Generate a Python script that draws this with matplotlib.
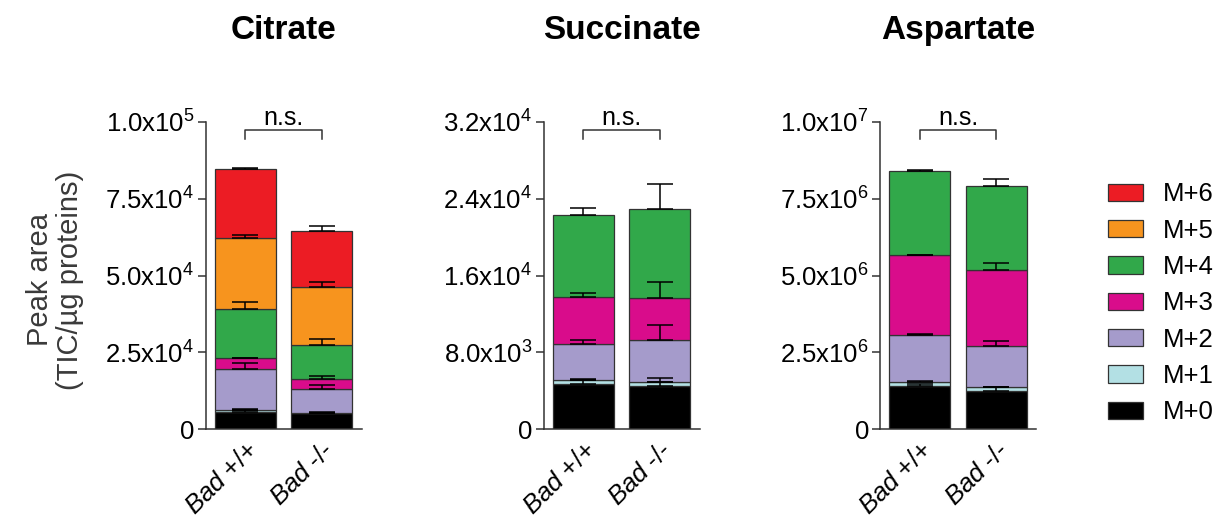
import matplotlib
matplotlib.use("Agg")
import matplotlib.pyplot as plt
import matplotlib.transforms as mtransforms
from matplotlib.patches import Patch
import numpy as np

plt.rcParams['font.family'] = ['Liberation Sans', 'DejaVu Sans']
plt.rcParams['mathtext.fontset'] = 'custom'
plt.rcParams['mathtext.rm'] = 'Liberation Sans'
plt.rcParams['mathtext.it'] = 'Liberation Sans:italic'
plt.rcParams['mathtext.bf'] = 'Liberation Sans:bold'

# ---- data -------------------------------------------------------------
isotopologues = ['M+0', 'M+1', 'M+2', 'M+3', 'M+4', 'M+5', 'M+6']
iso_colors = ['#000000', '#B3E0E4', '#A59BCB', '#D90C8B', '#31A84A', '#F7941E', '#EC1C24']
genotype_labels = [r'$\mathit{Bad}$ +/+', r'$\mathit{Bad}$ -/-']

citrate_wt = [5700, 650, 13150, 3600, 15900, 23300, 22300]
citrate_wt_err = [550, 100, 1950, 220, 2380, 975, 430]
citrate_ko = [5200, 250, 7770, 3280, 10800, 18960, 18310]
citrate_ko_err = [150, 100, 1250, 700, 1950, 1730, 1520]
citrate_ticks = [0, 25000, 50000, 75000, 100000]
citrate_ticklabels = ['0', '2.5x10$^{4}$', '5.0x10$^{4}$', '7.5x10$^{4}$', '1.0x10$^{5}$']

succinate_wt = [4700, 400, 3740, 4960, 8490]
succinate_wt_err = [500, 80, 450, 345, 765]
succinate_ko = [4507, 363, 4420, 4404, 9222]
succinate_ko_err = [800, 50, 1527, 1664, 2566]
succinate_ticks = [0, 8000, 16000, 24000, 32000]
succinate_ticklabels = ['0', '8.0x10$^{3}$', '1.6x10$^{4}$', '2.4x10$^{4}$', '3.2x10$^{4}$']

aspartate_wt = [1.415e6, 0.134e6, 1.517e6, 2.589e6, 2.742e6]
aspartate_wt_err = [60000, 20000, 32000, 10000, 21000]
aspartate_ko = [1.246e6, 0.119e6, 1.333e6, 2.470e6, 2.730e6]
aspartate_ko_err = [140000, 20000, 173000, 227000, 228000]
aspartate_ticks = [0, 2.5e6, 5.0e6, 7.5e6, 1.0e7]
aspartate_ticklabels = ['0', '2.5x10$^{6}$', '5.0x10$^{6}$', '7.5x10$^{6}$', '1.0x10$^{7}$']

panels = [
    ('Citrate', citrate_wt, citrate_wt_err, citrate_ko, citrate_ko_err,
     citrate_ticks, citrate_ticklabels),
    ('Succinate', succinate_wt, succinate_wt_err, succinate_ko, succinate_ko_err,
     succinate_ticks, succinate_ticklabels),
    ('Aspartate', aspartate_wt, aspartate_wt_err, aspartate_ko, aspartate_ko_err,
     aspartate_ticks, aspartate_ticklabels),
]

# ---- figure -----------------------------------------------------------
W, H = 1227, 521
fig = plt.figure(figsize=(W / 100, H / 100), dpi=100)

axis_color = '#333333'
edge_color = '#333333'
lefts_px = [205.5, 543.5, 880.0]
width_px = 156.0
bottom_px = 429.3
top_px = 121.7

x = np.arange(2)
bar_w = 0.8

for (name, wt, wt_err, ko, ko_err, ticks, ticklabels), lpx in zip(panels, lefts_px):
    ax = fig.add_axes([lpx / W, 1 - bottom_px / H, width_px / W, (bottom_px - top_px) / H])
    n = len(wt)
    vals = np.array([wt, ko], dtype=float)        # shape (2, n)
    errs = np.array([wt_err, ko_err], dtype=float)
    bottoms = np.zeros(2)
    tops = []
    for k in range(n):
        ax.bar(x, vals[:, k], bar_w, bottom=bottoms, color=iso_colors[k],
               edgecolor=edge_color, linewidth=0.9, zorder=2)
        bottoms = bottoms + vals[:, k]
        tops.append(bottoms.copy())
    # upward-only error bars at each segment top
    for k in range(n):
        ax.errorbar(x, tops[k], yerr=[np.zeros(2), errs[:, k]], fmt='none',
                    ecolor='black', elinewidth=1.1, capsize=9.5, capthick=1.1,
                    zorder=3)

    ymax = ticks[-1]
    ax.set_ylim(0, ymax)
    ax.set_xlim(-0.52, 1.52)
    ax.set_yticks(ticks)
    ax.set_yticklabels(ticklabels)
    ax.set_xticks(x)
    ax.set_xticklabels(genotype_labels, rotation=45, ha='right', va='top',
                       rotation_mode='anchor')
    ax.tick_params(axis='y', length=6, width=1.1, color=axis_color, pad=2,
                   labelsize=18.5, direction='out')
    ax.tick_params(axis='x', length=0, pad=6, labelsize=18.5)
    for s in ('top', 'right'):
        ax.spines[s].set_visible(False)
    for s in ('left', 'bottom'):
        ax.spines[s].set_color(axis_color)
        ax.spines[s].set_linewidth(1.1)

    # significance bracket
    trans = mtransforms.blended_transform_factory(ax.transData, ax.transAxes)
    ax.plot([0, 0, 1, 1], [0.943, 0.973, 0.973, 0.943], color=axis_color,
            lw=1.1, transform=trans, clip_on=False)
    ax.text(0.5, 0.99, 'n.s.', transform=trans, ha='center', va='baseline',
            fontsize=18)

    # title
    ax.text(0.5, 1.295, name, transform=ax.transAxes, ha='center', va='center',
            fontsize=24, fontweight='bold')

fig.text(55 / W, 1 - 280 / H, 'Peak area\n(TIC/µg proteins)', rotation=90,
         ha='center', va='center', multialignment='center', fontsize=21,
         color='#3a3a3a', linespacing=1.05)

handles = [Patch(facecolor=c, edgecolor=edge_color, linewidth=0.9, label=l)
           for c, l in zip(iso_colors, isotopologues)][::-1]
fig.legend(handles=handles, loc='center left',
           bbox_to_anchor=(1108 / W, 1 - 303.4 / H), frameon=False,
           fontsize=18.5, handlelength=1.35, handleheight=0.66,
           handletextpad=0.78, labelspacing=0.48, borderpad=0,
           borderaxespad=0)

fig.savefig('out.png', dpi=100)
